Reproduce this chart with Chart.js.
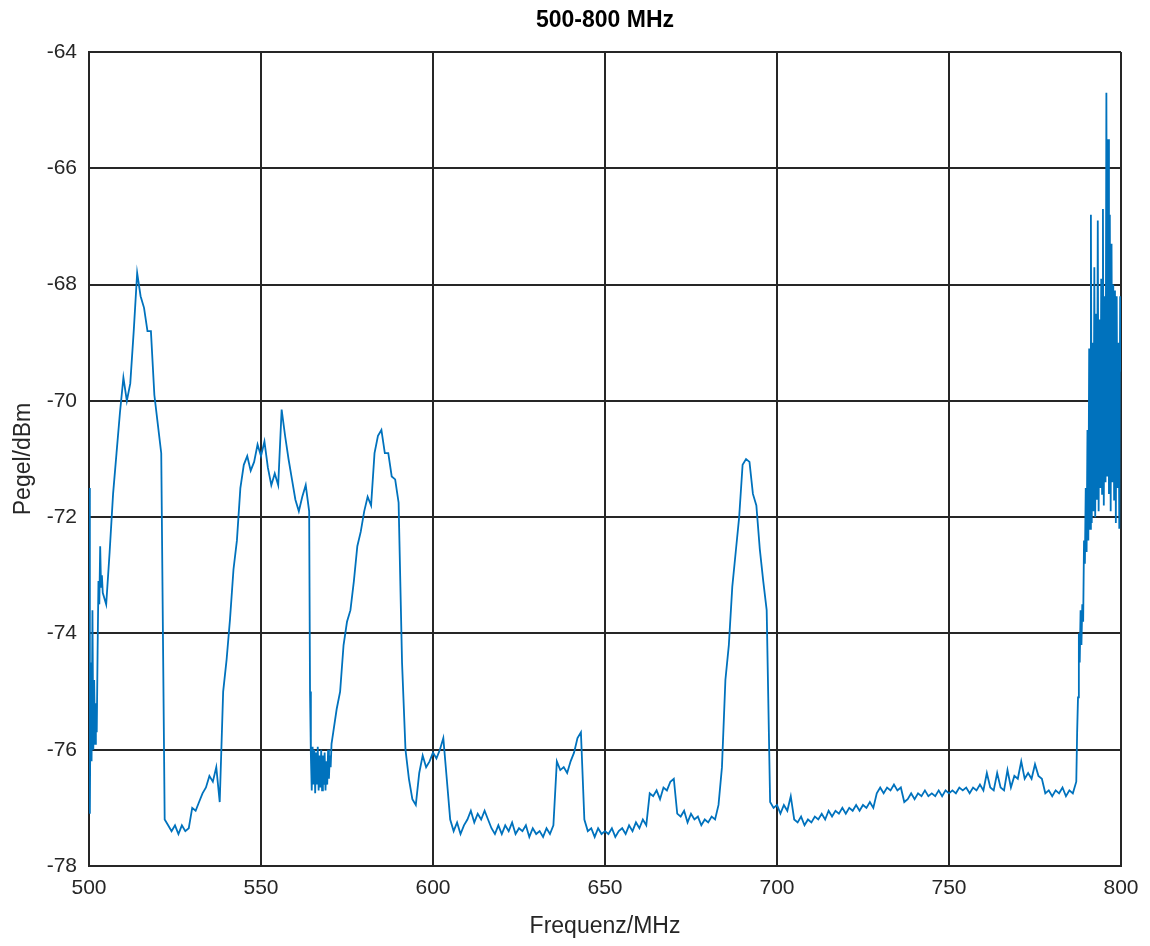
<!DOCTYPE html>
<html><head><meta charset="utf-8">
<script src="https://cdn.jsdelivr.net/npm/chart.js@4"></script>
<style>html,body{margin:0;padding:0;background:#fff;} canvas{display:block;}</style>
</head><body>
<canvas id="c" width="1150" height="946"></canvas>
<script>
const chartTitle = '500-800 MHz';
const xTitle = 'Frequenz/MHz';
const yTitle = 'Pegel/dBm';
const xTickValues = [500, 550, 600, 650, 700, 750, 800];
const yTickValues = [-78, -76, -74, -72, -70, -68, -66, -64];

// measurement segments: start frequency (MHz), step (MHz), levels (dBm)
const segStarts = [500, 504, 564.25, 571, 787.25];
const segSteps  = [0.25, 1, 0.25, 1, 0.25];

const levelsA = [-71.5, -77.1, -74.5, -76.2, -73.6, -76.0, -74.8, -75.9, -75.2, -75.7, -74.3, -73.1, -73.5, -72.5, -73.2, -73.0];

const levelsB = [
  -73.3, -73.5, -72.6, -71.6, -70.9, -70.2, -69.6, -70.0, -69.7, -68.8,
  -67.8, -68.2, -68.4, -68.8, -68.8, -69.9, -70.4, -70.9, -77.2, -77.3,
  -77.4, -77.3, -77.45, -77.3, -77.4, -77.35, -77.0, -77.05, -76.9, -76.75,
  -76.65, -76.45, -76.55, -76.3, -76.9, -75.0, -74.45, -73.75, -72.9, -72.4,
  -71.5, -71.1, -70.95, -71.2, -71.05, -70.75, -70.95, -70.7, -71.15, -71.45,
  -71.25, -71.45, -70.15, -70.6, -71.0, -71.35, -71.7, -71.9, -71.65, -71.45,
  -71.9
];

const levelsC = [
  -75.0, -76.1, -76.7, -75.95, -76.6, -76.0, -76.75, -76.05, -76.6, -75.95,
  -76.7, -76.1, -76.65, -76.0, -76.7, -76.1, -76.6, -76.05, -76.7, -76.2,
  -76.6, -76.0, -76.5, -76.1, -76.3, -75.9, -75.8
];

const levelsD = [
  -75.7, -75.3, -75.0, -74.2, -73.8, -73.6, -73.1, -72.5, -72.25, -71.9,
  -71.65, -71.8, -70.9, -70.6, -70.5, -70.9, -70.9, -71.3, -71.35, -71.75,
  -74.5, -76.0, -76.5, -76.85, -76.95, -76.4, -76.1, -76.3, -76.2, -76.05,
  -76.15, -76.0, -75.8, -76.5, -77.2, -77.4, -77.25, -77.45, -77.3, -77.2,
  -77.05, -77.25, -77.1, -77.2, -77.05, -77.2, -77.35, -77.45, -77.3, -77.45,
  -77.3, -77.4, -77.25, -77.45, -77.35, -77.4, -77.3, -77.5, -77.35, -77.45,
  -77.4, -77.5, -77.35, -77.45, -77.3, -76.2, -76.35, -76.3, -76.4, -76.2,
  -76.05, -75.8, -75.7, -77.2, -77.4, -77.35, -77.5, -77.35, -77.45, -77.4,
  -77.45, -77.35, -77.5, -77.4, -77.35, -77.45, -77.3, -77.4, -77.25, -77.35,
  -77.2, -77.3, -76.75, -76.8, -76.7, -76.85, -76.65, -76.7, -76.55, -76.5,
  -77.1, -77.15, -77.05, -77.25, -77.1, -77.2, -77.15, -77.3, -77.2, -77.25,
  -77.15, -77.2, -76.95, -76.3, -74.8, -74.2, -73.2, -72.6, -72.0, -71.1,
  -71.0, -71.05, -71.6, -71.8, -72.55, -73.1, -73.6, -76.9, -77.0, -76.95,
  -77.1, -76.95, -77.05, -76.8, -77.2, -77.25, -77.15, -77.3, -77.2, -77.25,
  -77.15, -77.2, -77.1, -77.2, -77.05, -77.15, -77.05, -77.1, -77.0, -77.1,
  -77.0, -77.05, -76.95, -77.05, -76.95, -77.0, -76.9, -77.0, -76.75, -76.65,
  -76.75, -76.65, -76.7, -76.6, -76.7, -76.65, -76.9, -76.85, -76.75, -76.85,
  -76.75, -76.8, -76.7, -76.8, -76.75, -76.8, -76.7, -76.8, -76.7, -76.75,
  -76.7, -76.75, -76.65, -76.7, -76.65, -76.75, -76.65, -76.7, -76.6, -76.7,
  -76.4, -76.65, -76.7, -76.4, -76.65, -76.7, -76.35, -76.65, -76.45, -76.5,
  -76.2, -76.5, -76.4, -76.5, -76.25, -76.45, -76.5, -76.75, -76.7, -76.8,
  -76.7, -76.75, -76.65, -76.8, -76.7, -76.75, -76.55
];

const levelsE = [
  -75.7, -75.1, -74.0, -74.5, -73.6, -74.2, -73.5, -73.8, -72.4, -72.8,
  -71.5, -72.6, -70.5, -72.4, -69.1, -72.2, -66.8, -72.1, -69.0, -71.9,
  -67.7, -72.0, -68.5, -71.7, -66.9, -71.9, -68.6, -71.5, -67.9, -71.6,
  -66.7, -71.8, -68.2, -71.4, -64.7, -71.3, -65.5, -71.6, -66.8, -71.9,
  -67.3, -71.4, -68.0, -71.7, -68.1, -72.1, -68.2, -71.5, -69.0, -72.2,
  -68.2, -69.5
];

const segLevels = [levelsA, levelsB, levelsC, levelsD, levelsE];

const points = [];
segLevels.forEach((lv, s) => {
  lv.forEach((v, i) => points.push({ x: segStarts[s] + i * segSteps[s], y: v }));
});

const FONT = 'Liberation Sans, Arial, Helvetica, sans-serif';
const AX = '#262626';

new Chart(document.getElementById('c').getContext('2d'), {
  type: 'line',
  data: { datasets: [{ data: points, borderColor: '#0072BD', borderWidth: 1.8, pointRadius: 0, tension: 0, fill: false }] },
  options: {
    responsive: false,
    animation: false,
    devicePixelRatio: 1,
    layout: { padding: { left: 0, right: 29, top: 0, bottom: 0 } },
    plugins: {
      legend: { display: false },
      tooltip: { enabled: false },
      title: {
        display: true, text: chartTitle, fullSize: false, color: '#000',
        font: { family: FONT, size: 23, weight: 'bold' },
        padding: { top: 7, bottom: 17.4 }
      }
    },
    scales: {
      x: {
        type: 'linear', min: xTickValues[0], max: xTickValues[xTickValues.length - 1],
        afterBuildTicks: s => { s.ticks = xTickValues.map(v => ({ value: v })); },
        afterFit: s => { s.height = 80; },
        grid: { color: AX, lineWidth: 2, drawTicks: false },
        border: { color: AX, width: 2 },
        ticks: { padding: 10, color: AX, font: { family: FONT, size: 21 }, maxRotation: 0 },
        title: { display: true, text: xTitle, color: AX, font: { family: FONT, size: 23 }, padding: { top: 0, bottom: 6 } }
      },
      y: {
        type: 'linear', min: yTickValues[0], max: yTickValues[yTickValues.length - 1],
        afterBuildTicks: s => { s.ticks = yTickValues.map(v => ({ value: v })); },
        afterFit: s => { s.width = 89; },
        grid: { color: AX, lineWidth: 2, drawTicks: false },
        border: { color: AX, width: 2 },
        ticks: { padding: 12, color: AX, font: { family: FONT, size: 21 } },
        title: { display: true, text: yTitle, color: AX, font: { family: FONT, size: 23 }, padding: { top: 10, bottom: 0 } }
      }
    }
  }
});
</script>
</body></html>
